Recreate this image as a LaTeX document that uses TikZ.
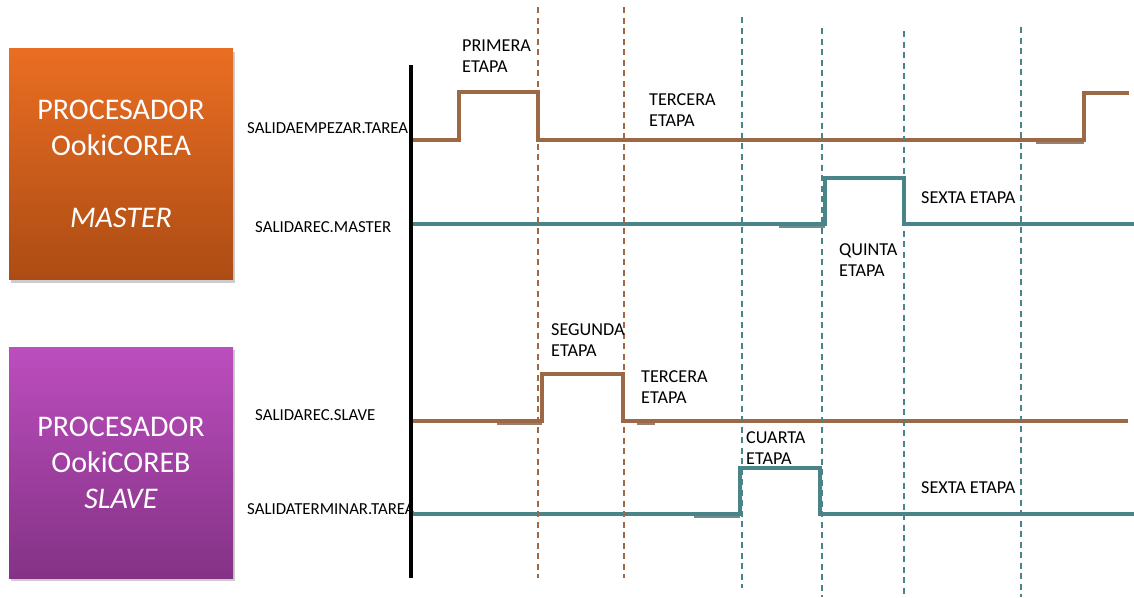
\documentclass[tikz,border=0pt]{standalone}
\usepackage{fontspec}
\setmainfont{Carlito}
\usetikzlibrary{shadows}
\definecolor{sigbrown}{RGB}{157,104,70}
\definecolor{sigteal}{RGB}{72,132,136}
\definecolor{orangetop}{RGB}{234,110,34}
\definecolor{orangebot}{RGB}{172,76,20}
\definecolor{purpletop}{RGB}{188,78,190}
\definecolor{purplebot}{RGB}{132,50,134}
\begin{document}
\begin{tikzpicture}[x=1pt,y=-1pt,
  procbox/.style={minimum width=224pt, minimum height=231pt, inner sep=0pt,
    text=white, align=center, font=\fontsize{30}{36}\selectfont,
    drop shadow={shadow xshift=2pt, shadow yshift=-3pt, opacity=0.4}},
  siglabel/.style={anchor=west, inner sep=0pt, font=\fontsize{16.8}{19}\selectfont},
  stagetxt/.style={anchor=west, inner sep=0pt, align=left, font=\fontsize{18.2}{21}\selectfont},
  brownsig/.style={draw=sigbrown, line width=4.5pt},
  tealsig/.style={draw=sigteal, line width=4.5pt},
  brownshade/.style={draw=sigbrown!70!black, opacity=0.7, line width=3.5pt},
  tealshade/.style={draw=sigteal!70!black, opacity=0.7, line width=3.5pt},
  browntick/.style={draw=sigbrown, line width=1.5pt, dash pattern=on 6pt off 4.5pt},
  tealtick/.style={draw=sigteal, line width=1.5pt, dash pattern=on 6pt off 4.5pt},
  axisline/.style={draw=black, line width=4pt}
]
\useasboundingbox (0,0) rectangle (1134,597);

% processor blocks
\node[procbox, top color=orangetop, bottom color=orangebot] (master) at (121,164)
  {PROCESADOR\\OokiCOREA\\[36pt]\textit{MASTER}};
\node[procbox, top color=purpletop, bottom color=purplebot] (slave) at (121,462.5)
  {PROCESADOR\\OokiCOREB\\\textit{SLAVE}};

% signal names
\node[siglabel] (lempezar) at (247,128) {SALIDAEMPEZAR.TAREA};
\node[siglabel] (lrecmaster) at (255,227) {SALIDAREC.MASTER};
\node[siglabel] (lrecslave) at (255,415) {SALIDAREC.SLAVE};
\node[siglabel] (lterminar) at (247,509) {SALIDATERMINAR.TAREA};

% time axis
\draw[axisline] (411,65) -- (411,578);

% darker bands under the low levels
\draw[brownshade] (1036,142) -- (1084,142);
\draw[tealshade] (779,226) -- (825,226);
\draw[brownshade] (497,423) -- (542,423);
\draw[brownshade] (637,423) -- (655,423);
\draw[tealshade] (694,516) -- (740,516);

% signals
\draw[brownsig] (413,140) -- (459,140) -- (459,92) -- (538,92) -- (538,140)
  -- (1084,140) -- (1084,93) -- (1129,93);
\draw[tealsig] (413,224) -- (825,224) -- (825,178) -- (904,178) -- (904,224) -- (1134,224);
\draw[brownsig] (413,421) -- (542,421) -- (542,374) -- (623,374) -- (623,421) -- (1128,421);
\draw[tealsig] (413,514) -- (740,514) -- (740,468) -- (820,468) -- (820,514) -- (1134,514);

% stage boundaries
\draw[browntick] (538,7) -- (538,578);
\draw[browntick] (624,7) -- (624,578);
\draw[tealtick] (742,17) -- (742,588);
\draw[tealtick] (822,28) -- (822,597);
\draw[tealtick] (904,31) -- (904,594);
\draw[tealtick] (1021,27) -- (1021,597);

% stage names
\node[stagetxt] (s1) at (462,56.5) {PRIMERA\\ETAPA};
\node[stagetxt] (s3a) at (649,110.5) {TERCERA\\ETAPA};
\node[stagetxt] (s6a) at (921,198) {SEXTA ETAPA};
\node[stagetxt] (s5) at (839,260.5) {QUINTA\\ETAPA};
\node[stagetxt] (s2) at (551,340.5) {SEGUNDA\\ETAPA};
\node[stagetxt] (s3b) at (641,387.5) {TERCERA\\ETAPA};
\node[stagetxt] (s4) at (746,448) {CUARTA\\ETAPA};
\node[stagetxt] (s6b) at (921,488) {SEXTA ETAPA};
\end{tikzpicture}
\end{document}
